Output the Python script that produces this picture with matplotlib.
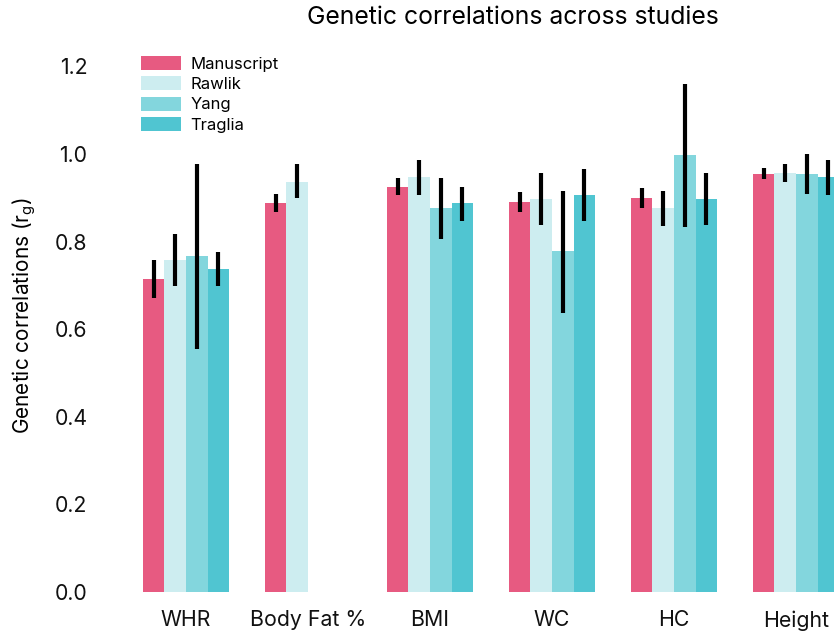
import numpy as np
import matplotlib
matplotlib.use("Agg")
import matplotlib.pyplot as plt

plt.rcParams['font.family'] = ['Inter', 'DejaVu Sans']

categories = ["WHR", "Body Fat %", "BMI", "WC", "HC", "Height"]
series = ["Manuscript", "Rawlik", "Yang", "Traglia"]
colors = ["#E75A81", "#CDEDF0", "#83D6DD", "#50C5D1"]

values = {
    "Manuscript": [0.715, 0.888, 0.925, 0.890, 0.900, 0.954],
    "Rawlik":     [0.758, 0.936, 0.947, 0.897, 0.877, 0.957],
    "Yang":       [0.767, np.nan, 0.877, 0.779, 0.998, 0.954],
    "Traglia":    [0.737, np.nan, 0.888, 0.906, 0.897, 0.947],
}
lower = {
    "Manuscript": [0.671, 0.868, 0.906, 0.868, 0.877, 0.943],
    "Rawlik":     [0.699, 0.900, 0.906, 0.838, 0.836, 0.936],
    "Yang":       [0.555, np.nan, 0.806, 0.637, 0.833, 0.909],
    "Traglia":    [0.699, np.nan, 0.847, 0.847, 0.838, 0.906],
}
upper = {
    "Manuscript": [0.758, 0.909, 0.945, 0.913, 0.922, 0.968],
    "Rawlik":     [0.817, 0.977, 0.986, 0.957, 0.916, 0.977],
    "Yang":       [0.977, np.nan, 0.945, 0.916, 1.160, 1.000],
    "Traglia":    [0.776, np.nan, 0.925, 0.966, 0.957, 0.986],
}

fig = plt.figure(figsize=(8.34, 6.34), dpi=100)
L, R, B, T = 100, 834, 592, 40
ax = fig.add_axes([L / 834, (634 - B) / 634, (R - L) / 834, (B - T) / 634])

x = np.arange(len(categories))
w = 0.1775
for i, s in enumerate(series):
    xs = x + (i - 1.5) * w
    v = np.array(values[s], dtype=float)
    lo = np.array(lower[s], dtype=float)
    hi = np.array(upper[s], dtype=float)
    ax.bar(xs, v, width=w, color=colors[i], label=s, linewidth=0)
    ax.errorbar(xs, v, yerr=[v - lo, hi - v], fmt='none', ecolor='black',
                elinewidth=3, capsize=0)

ax.set_xlim((L - 186) / 122, (R - 186) / 122)
ax.set_ylim(0, (B - T) / 438)
ax.set_yticks([0.0, 0.2, 0.4, 0.6, 0.8, 1.0, 1.2])
ax.set_yticklabels(["0.0", "0.2", "0.4", "0.6", "0.8", "1.0", "1.2"])
ax.set_xticks(x)
ax.set_xticklabels(categories)
ax.tick_params(axis='both', length=0, labelsize=15.3, colors='#111111')
ax.tick_params(axis='y', pad=9)
ax.tick_params(axis='x', pad=13)
for sp in ax.spines.values():
    sp.set_visible(False)

ax.set_ylabel("Genetic correlations (r$_\\mathregular{g}$)", fontsize=15, labelpad=12)
fig.text(513 / 834, 1 - 18 / 634, "Genetic correlations across studies",
         ha='center', va='center', fontsize=17.8)

ax.legend(loc='upper left', bbox_to_anchor=(141 / 834, 1 - 56 / 634),
          bbox_transform=fig.transFigure, frameon=False, fontsize=12,
          handlelength=2.4, handleheight=0.9, labelspacing=0.28,
          handletextpad=0.55, borderaxespad=0, borderpad=0)

fig.savefig("out.png", dpi=100)
